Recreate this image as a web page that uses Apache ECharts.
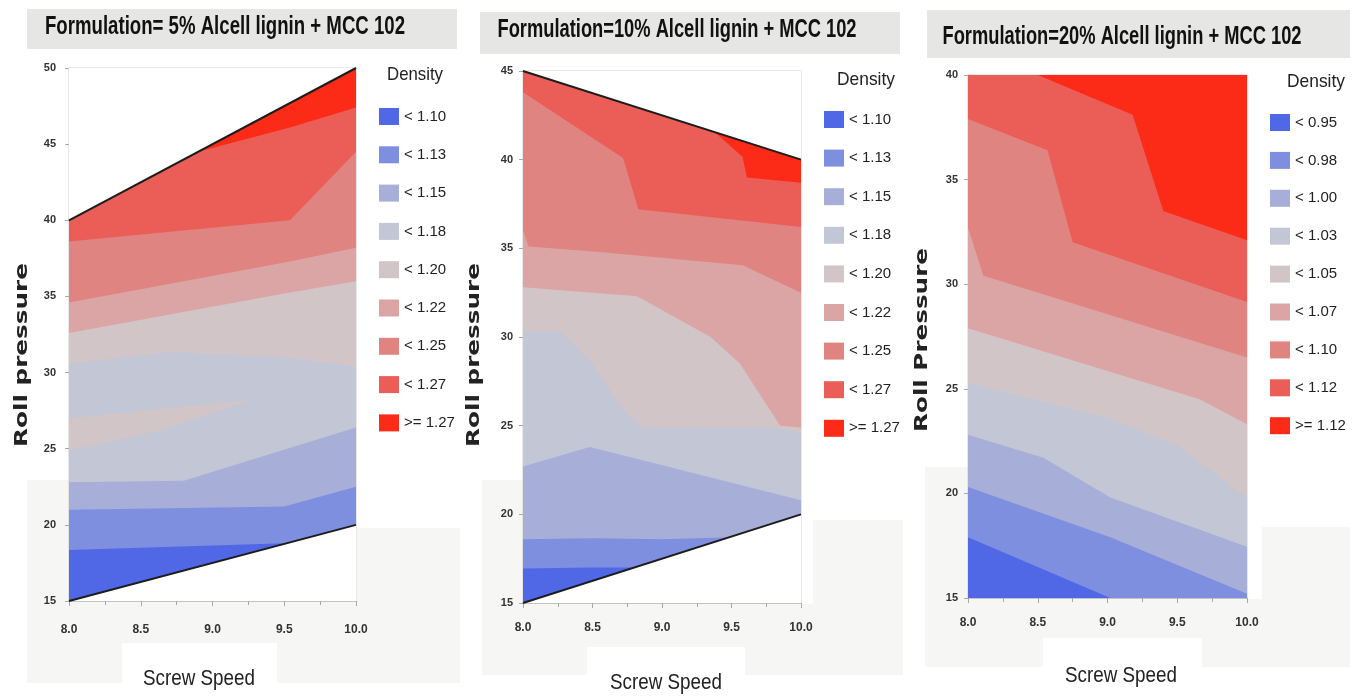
<!DOCTYPE html>
<html>
<head>
<meta charset="utf-8">
<title>Density contour plots</title>
<script src="https://cdn.jsdelivr.net/npm/echarts@6/dist/echarts.min.js"></script>
<style>
  html, body { margin: 0; padding: 0; background: #fff; }
  #chart { width: 1359px; height: 699px; }
</style>
</head>
<body>
<div id="chart"></div>
<script>
// band colours, from lowest density (blue) to highest (red)
var bandColors = ['#5068e6', '#7e8fdf', '#a7aed8', '#c3c6d5', '#d2c5c8', '#dba5a6', '#e08482', '#ea5e57', '#fb2b17'];

var levels5 = ['< 1.10', '< 1.13', '< 1.15', '< 1.18', '< 1.20', '< 1.22', '< 1.25', '< 1.27', '>= 1.27'];
var levels10 = ['< 1.10', '< 1.13', '< 1.15', '< 1.18', '< 1.20', '< 1.22', '< 1.25', '< 1.27', '>= 1.27'];
var levels20 = ['< 0.95', '< 0.98', '< 1.00', '< 1.03', '< 1.05', '< 1.07', '< 1.10', '< 1.12', '>= 1.12'];

// axis ranges: [min, max, interval]
var speedRange = [8, 10, 0.5];
var pressRange5 = [15, 50, 5];
var pressRange10 = [15, 45, 5];
var pressRange20 = [15, 40, 5];

// design space edges (outside is blank)
var top5 = [[8, 40], [10, 50]];
var bottom5 = [[8, 15], [10, 20]];
var top10 = [[8, 45], [10, 40]];
var bottom10 = [[8, 15], [10, 20]];

// contour edges, top to bottom: [band below the edge, edge points (screw speed, roll pressure)]
var edges5 = [
    [8, [[8, 40], [10, 50]]],
    [7, [[8, 40], [8.9, 44.5], [9.54, 46.1], [10, 47.4]]],
    [6, [[8, 38.6], [9.54, 40.0], [10, 44.5]]],
    [5, [[8, 34.6], [9.54, 37.3], [10, 38.2]]],
    [4, [[8, 32.6], [9.5, 35.2], [10, 36.0]]],
    [3, [[8, 30.6], [8.7, 31.35], [9.5, 31.0], [10, 30.4]]],
    [4, [[8, 27.0], [9.26, 28.2]]],
    [3, [[8, 24.9], [8.63, 26.2], [9.26, 28.2]]],
    [2, [[8, 22.8], [8.8, 22.9], [10, 26.4]]],
    [1, [[8, 21.0], [9.5, 21.2], [10, 22.5]]],
    [0, [[8, 18.35], [8.5, 18.5], [9.5, 18.8], [10, 19.0]]]
];
var edges10 = [
    [8, [[8, 45], [10, 40]]],
    [7, [[8, 45], [9.38, 41.55], [9.58, 40.15], [9.61, 39.0], [10, 38.7]]],
    [6, [[8, 43.8], [8.72, 40.1], [8.83, 37.2], [10, 36.2]]],
    [5, [[8, 36.0], [8.04, 35.1], [8.55, 34.8], [9.58, 34.05], [10, 32.5]]],
    [4, [[8, 32.8], [8.82, 32.3], [9.35, 30.0], [9.56, 28.5], [9.85, 25.0], [10, 24.9]]],
    [3, [[8, 30.3], [8.27, 30.3], [8.48, 28.7], [8.72, 25.9], [8.86, 24.9], [9.85, 24.85], [10, 24.6]]],
    [2, [[8, 22.7], [8.48, 23.8], [10, 20.8]]],
    [1, [[8, 18.6], [8.5, 18.65], [9.0, 18.6], [10, 18.8]]],
    [0, [[8, 16.95], [8.5, 17.0], [10, 17.0]]]
];
var edges20 = [
    [8, [[8, 40], [10, 40]]],
    [7, [[8, 40], [8.5, 40], [9.18, 38.1], [9.4, 33.5], [10, 32.1]]],
    [6, [[8, 37.9], [8.57, 36.4], [8.75, 32.0], [10, 29.15]]],
    [5, [[8, 32.7], [8.11, 30.4], [10, 26.5]]],
    [4, [[8, 27.9], [9.66, 24.5], [10, 23.3]]],
    [3, [[8, 25.3], [9.0, 23.6], [9.5, 22.3], [10, 19.8]]],
    [2, [[8, 22.8], [8.54, 21.7], [9.02, 19.8], [10, 17.45]]],
    [1, [[8, 20.3], [9.02, 17.9], [10, 15.2]]],
    [0, [[8, 17.9], [9.02, 15]]]
];

var sans = '"Liberation Sans", Arial, sans-serif';

var measureCtx = document.createElement('canvas').getContext('2d');
function fit(text, font, width) {
    measureCtx.font = font;
    return width / measureCtx.measureText(text).width;
}

function panelSeries(idx, tag, levels, edges, topEdge, bottomEdge) {
    var list = [];
    edges.forEach(function (e) {
        var c = bandColors[e[0]];
        list.push({
            type: 'line',
            name: tag + '|' + levels[e[0]],
            xAxisIndex: idx,
            yAxisIndex: idx,
            data: e[1],
            symbol: 'none',
            silent: true,
            color: c,
            lineStyle: {width: 0, opacity: 0},
            areaStyle: {color: c, opacity: 1, origin: 'start'}
        });
    });
    [[topEdge, 'end'], [bottomEdge, 'start']].forEach(function (m) {
        if (!m[0]) return;
        list.push({
            type: 'line',
            name: 'edge',
            xAxisIndex: idx,
            yAxisIndex: idx,
            data: m[0],
            symbol: 'none',
            silent: true,
            lineStyle: {color: '#1c1c1c', width: 2},
            areaStyle: {color: '#fff', opacity: 1, origin: m[1]}
        });
    });
    return list;
}

function xAxis(idx, margin) {
    return {
        gridIndex: idx, type: 'value',
        min: speedRange[0], max: speedRange[1], interval: speedRange[2],
        axisLine: {show: true, lineStyle: {color: '#c4c4c4'}},
        axisTick: {show: true, length: 5, lineStyle: {color: '#a8a8a8'}},
        minorTick: {show: true, splitNumber: 2, length: 4, lineStyle: {color: '#a8a8a8'}},
        splitLine: {show: false},
        axisLabel: {
            margin: margin, color: '#333', fontFamily: sans, fontSize: 12, fontWeight: 'bold',
            formatter: function (v) { return v.toFixed(1); }
        }
    };
}

function yAxis(idx, range, margin) {
    return {
        gridIndex: idx, type: 'value',
        min: range[0], max: range[1], interval: range[2],
        axisLine: {show: true, lineStyle: {color: '#c4c4c4'}},
        axisTick: {show: true, length: 4, lineStyle: {color: '#a8a8a8'}},
        splitLine: {show: false},
        axisLabel: {margin: margin, color: '#333', fontFamily: sans, fontSize: 11, fontWeight: 'bold'}
    };
}

function legend(tag, levels, left, top, gap) {
    return {
        data: levels.map(function (l, i) {
            return {name: tag + '|' + l, itemStyle: {color: bandColors[i], borderWidth: 0}};
        }),
        formatter: function (n) { return n.split('|')[1]; },
        orient: 'vertical', left: left, top: top, padding: 0,
        icon: 'rect', itemWidth: 20, itemHeight: 17, itemGap: gap,
        selectedMode: false,
        textStyle: {fontFamily: sans, fontSize: 15, color: '#222'}
    };
}

function text(str, font, x, y, width, opts) {
    opts = opts || {};
    return {
        type: 'text', x: x, y: y, z: 10,
        rotation: opts.rotation || 0,
        scaleX: fit(str, font, width),
        silent: true,
        style: {
            text: str, font: font, fill: opts.fill || '#111',
            align: 'center', verticalAlign: 'middle',
            textAlign: 'center', textVerticalAlign: 'middle'
        }
    };
}

function rect(x, y, w, h, color) {
    return {type: 'rect', shape: {x: x, y: y, width: w, height: h}, style: {fill: color}, silent: true, z: -5};
}

var titleFont = 'bold 26px "Liberation Sans", Arial, sans-serif';
var axisFont = 'bold 18px "DejaVu Sans", sans-serif';
var speedFont = '22px "Liberation Sans", Arial, sans-serif';
var densityFont = '19px "Liberation Sans", Arial, sans-serif';
var paper = '#f6f6f4';

var graphics = [
    // faint backdrop of the original figure
    rect(27, 480, 42, 203, paper), rect(27, 602, 433, 81, paper), rect(357, 528, 103, 155, paper),
    rect(122, 643, 155, 56, '#fff'),
    rect(482, 480, 41, 195, paper), rect(482, 604, 421, 71, paper), rect(813, 520, 90, 155, paper),
    rect(587, 647, 158, 52, '#fff'),
    rect(925, 467, 43, 200, paper), rect(925, 599, 425, 68, paper), rect(1262, 527, 88, 140, paper),
    rect(1043, 638, 159, 61, '#fff'),
    // title bars
    rect(27, 9, 430, 40, '#e6e6e4'),
    rect(480, 12, 420, 42, '#e6e6e4'),
    rect(927, 10, 423, 48, '#e6e6e4'),
    text('Formulation= 5% Alcell lignin + MCC 102', titleFont, 225, 27, 360),
    text('Formulation=10% Alcell lignin + MCC 102', titleFont, 677, 30, 359),
    text('Formulation=20% Alcell lignin + MCC 102', titleFont, 1122, 37, 359),
    text('Density', densityFont, 415, 75, 56, {fill: '#222'}),
    text('Density', densityFont, 866, 80, 58, {fill: '#222'}),
    text('Density', densityFont, 1316, 82, 58, {fill: '#222'}),
    text('Roll pressure', axisFont, 22, 355, 184, {rotation: Math.PI / 2, fill: '#222'}),
    text('Roll pressure', axisFont, 474, 355, 184, {rotation: Math.PI / 2, fill: '#222'}),
    text('Roll Pressure', axisFont, 922, 340, 184, {rotation: Math.PI / 2, fill: '#222'}),
    text('Screw Speed', speedFont, 199, 679, 112, {fill: '#222'}),
    text('Screw Speed', speedFont, 666, 683, 112, {fill: '#222'}),
    text('Screw Speed', speedFont, 1121, 676, 112, {fill: '#222'})
];

var chart = echarts.init(document.getElementById('chart'));
chart.setOption({
    animation: false,
    backgroundColor: '#fff',
    grid: [
        {left: 69, top: 68, width: 287, height: 533, show: true, borderColor: '#d0d0d0', borderWidth: 1, backgroundColor: '#fff'},
        {left: 523, top: 71, width: 278, height: 532, show: true, borderColor: '#d0d0d0', borderWidth: 1, backgroundColor: '#fff'},
        {left: 968, top: 75, width: 279, height: 523, show: true, borderColor: '#d0d0d0', borderWidth: 1, backgroundColor: '#fff'}
    ],
    xAxis: [xAxis(0, 23), xAxis(1, 19), xAxis(2, 19)],
    yAxis: [yAxis(0, pressRange5, 13), yAxis(1, pressRange10, 10), yAxis(2, pressRange20, 10)],
    legend: [
        legend('p5', levels5, 379, 108, 21.3),
        legend('p10', levels10, 824, 111, 21.6),
        legend('p20', levels20, 1270, 114, 20.9)
    ],
    graphic: graphics,
    series: [].concat(
        panelSeries(0, 'p5', levels5, edges5, top5, bottom5),
        panelSeries(1, 'p10', levels10, edges10, top10, bottom10),
        panelSeries(2, 'p20', levels20, edges20, null, null)
    )
});
</script>
</body>
</html>
